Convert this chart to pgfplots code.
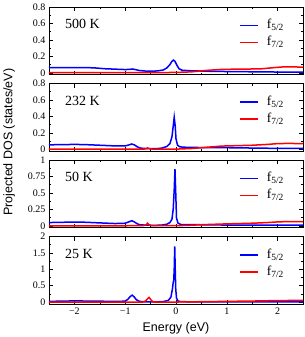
\documentclass[border=0pt]{standalone}
\usepackage{fontspec}
\setmainfont{Liberation Serif}
\setsansfont{Liberation Sans}
\usepackage{pgfplots}
\pgfplotsset{compat=1.18}
\usepgfplotslibrary{groupplots}
\newcommand{\mylegend}{%
  \draw[blue, line width=1.6pt] (axis description cs:0.752,0.725) -- (axis description cs:0.823,0.725);
  \node[anchor=base west, inner sep=0pt, font=\fontsize{13.5}{14}\selectfont] at (axis description cs:0.857,0.677) {f\textsubscript{5/2}};
  \draw[red, line width=1.6pt] (axis description cs:0.752,0.474) -- (axis description cs:0.823,0.474);
  \node[anchor=base west, inner sep=0pt, font=\fontsize{13.5}{14}\selectfont] at (axis description cs:0.857,0.426) {f\textsubscript{7/2}};
}
\newcommand{\plab}[1]{\node[anchor=west, inner sep=0pt, font=\fontsize{14}{15}\selectfont] at (axis description cs:0.063,0.745) {#1};}
\begin{document}
\begin{tikzpicture}
\begin{groupplot}[
  group style={group size=1 by 4, vertical sep=9pt, xticklabels at=edge bottom},
  scale only axis, width=254pt, height=67.5pt,
  xmin=-2.5, xmax=2.5,
  xtick={-2,-1,0,1,2},
  xticklabels={−2,−1,0,1,2},
  minor x tick num=1, minor y tick num=1,
  tick align=inside, major tick length=4pt, minor tick length=2pt,
  tick style={black, line width=0.5pt},
  axis line style={line width=0.6pt},
  ticklabel style={font=\fontsize{10}{11}\selectfont, inner sep=0.6pt},
  yticklabel style={xshift=-2.8pt},
  xticklabel style={yshift=-2.8pt},
  bl/.style={draw=blue, line width=1.5pt},
  rd/.style={draw=red, line width=1.5pt},
]
\nextgroupplot[ymin=-0.02, ymax=0.8, ytick={0,0.2,0.4,0.6,0.8}, yticklabels={0,0.2,0.4,0.6,0.8}]
\addplot[bl] coordinates {(-2.5,0.062)(-2.2,0.063)(-2.0,0.064)(-1.8,0.065)(-1.6,0.06)(-1.4,0.05)(-1.2,0.045)(-1.0,0.04)(-0.92,0.042)(-0.86,0.047)(-0.8,0.04)(-0.72,0.028)(-0.6,0.022)(-0.45,0.02)(-0.35,0.025)(-0.25,0.035)(-0.18,0.06)(-0.12,0.1)(-0.08,0.14)(-0.05,0.155)(-0.02,0.14)(0.02,0.09)(0.06,0.05)(0.12,0.032)(0.3,0.025)(0.6,0.02)(1.0,0.016)(1.5,0.013)(2.0,0.01)(2.5,0.01)};
\addplot[rd] coordinates {(-2.5,0.002)(-1,0.002)(-0.4,0.003)(0,0.005)(0.3,0.012)(0.6,0.03)(0.9,0.042)(1.2,0.045)(1.5,0.047)(1.7,0.05)(1.9,0.062)(2.1,0.072)(2.3,0.072)(2.5,0.07)};
\mylegend
\plab{500 K}

\nextgroupplot[ymin=-0.02, ymax=0.8, ytick={0,0.2,0.4,0.6,0.8}, yticklabels={0,0.2,0.4,0.6,0.8},
  ylabel={\sffamily\fontsize{12.5}{14}\selectfont Projected DOS (states/eV)},
  ylabel style={at={(axis description cs:-0.157,0.13)}, anchor=center}]
\addplot[bl] coordinates {(-2.5,0.055)(-2.2,0.058)(-2.0,0.06)(-1.8,0.058)(-1.5,0.05)(-1.2,0.042)(-1.0,0.042)(-0.92,0.055)(-0.87,0.065)(-0.82,0.055)(-0.76,0.03)(-0.7,0.015)(-0.55,0.008)(-0.4,0.008)(-0.28,0.015)(-0.18,0.035)(-0.12,0.07)(-0.08,0.15)(-0.055,0.28)(-0.035,0.39)(-0.015,0.28)(0.0,0.13)(0.03,0.05)(0.08,0.03)(0.2,0.025)(0.5,0.022)(1.0,0.02)(1.5,0.016)(2.0,0.012)(2.5,0.012)};
\addplot[rd] coordinates {(-2.5,0.002)(-0.7,0.002)(-0.6,0.005)(-0.56,0.018)(-0.52,0.008)(-0.45,0.002)(0,0.003)(0.3,0.01)(0.6,0.025)(0.9,0.04)(1.2,0.045)(1.5,0.05)(1.8,0.06)(2.0,0.07)(2.2,0.072)(2.5,0.07)};
\mylegend
\plab{232 K}

\nextgroupplot[ymin=-0.025, ymax=1, ytick={0,0.25,0.5,0.75,1}, yticklabels={0,0.25,0.5,0.75,1}]
\addplot[bl] coordinates {(-2.5,0.05)(-2.0,0.058)(-1.8,0.055)(-1.5,0.045)(-1.2,0.035)(-1.0,0.04)(-0.93,0.06)(-0.87,0.078)(-0.82,0.06)(-0.76,0.03)(-0.7,0.015)(-0.55,0.01)(-0.4,0.008)(-0.28,0.012)(-0.18,0.025)(-0.12,0.05)(-0.08,0.1)(-0.055,0.25)(-0.035,0.55)(-0.02,0.86)(-0.005,0.5)(0.01,0.12)(0.04,0.04)(0.1,0.02)(0.3,0.018)(0.6,0.016)(1.0,0.012)(1.5,0.01)(2.5,0.01)};
\addplot[rd] coordinates {(-2.5,0.0)(-0.65,0.002)(-0.59,0.015)(-0.56,0.04)(-0.53,0.015)(-0.48,0.002)(0,0.002)(0.3,0.01)(0.6,0.02)(1.0,0.03)(1.5,0.04)(1.8,0.05)(2.0,0.06)(2.2,0.065)(2.5,0.065)};
\mylegend
\plab{50 K}

\nextgroupplot[ymin=-0.06, ymax=2, ytick={0,0.5,1,1.5,2}, yticklabels={0,0.5,1,1.5,2},
  xlabel={\sffamily\fontsize{12.5}{14}\selectfont Energy (eV)},
  xlabel style={at={(axis description cs:0.5,-0.355)}, anchor=center}]
\addplot[bl] coordinates {(-2.5,0.02)(-2.0,0.035)(-1.5,0.025)(-1.1,0.02)(-1.0,0.03)(-0.95,0.08)(-0.9,0.17)(-0.86,0.21)(-0.82,0.15)(-0.78,0.07)(-0.72,0.02)(-0.6,0.005)(-0.4,0.005)(-0.25,0.015)(-0.15,0.05)(-0.1,0.15)(-0.07,0.4)(-0.055,0.6)(-0.045,0.65)(-0.035,1.0)(-0.025,1.7)(-0.015,1.0)(-0.005,0.4)(0.01,0.12)(0.04,0.03)(0.1,0.01)(0.5,0.005)(1.0,0.003)(2.5,0.003)};
\addplot[rd] coordinates {(-2.5,0)(-0.65,0.0)(-0.6,0.03)(-0.56,0.1)(-0.53,0.14)(-0.5,0.08)(-0.46,0.01)(-0.4,0)(0,0)(0.5,0.01)(1.0,0.02)(1.5,0.03)(2.0,0.045)(2.5,0.05)};
\mylegend
\plab{25 K}
\end{groupplot}
\pgfresetboundingbox
\useasboundingbox ([xshift=-49pt,yshift=7pt]group c1r1.north west) rectangle ([xshift=2pt,yshift=-33pt]group c1r4.south east);
\end{tikzpicture}
\end{document}
